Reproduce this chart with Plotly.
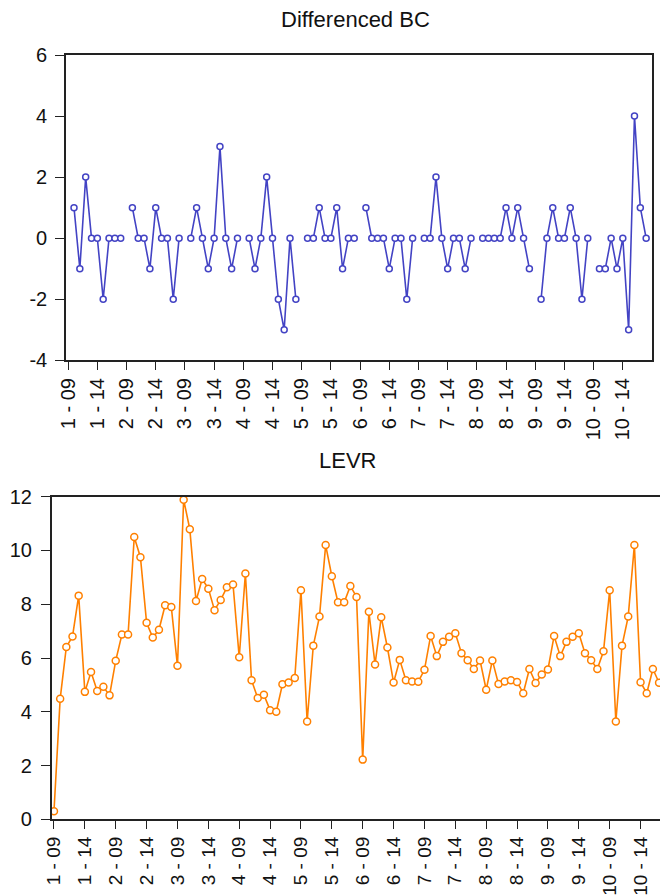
import plotly.graph_objects as go

W, H = 660, 895

# Observation labels: cross-section - year
obs_labels = [f"{c} - {y:02d}" for c in range(1, 11) for y in range(9, 19)]
tick_labels = obs_labels[::5]

nan = None
diff_bc = [
    nan, 1, -1, 2, 0, 0, -2, 0, 0, 0,
    nan, 1, 0, 0, -1, 1, 0, 0, -2, 0,
    nan, 0, 1, 0, -1, 0, 3, 0, -1, 0,
    nan, 0, -1, 0, 2, 0, -2, -3, 0, -2,
    nan, 0, 0, 1, 0, 0, 1, -1, 0, 0,
    nan, 1, 0, 0, 0, -1, 0, 0, -2, 0,
    nan, 0, 0, 2, 0, -1, 0, 0, -1, 0,
    nan, 0, 0, 0, 0, 1, 0, 1, 0, -1,
    nan, -2, 0, 1, 0, 0, 1, 0, -2, 0,
    nan, -1, -1, 0, -1, 0, -3, 4, 1, 0,
]

levr = [
    0.30, 4.48, 6.41, 6.80, 8.32, 4.74, 5.48, 4.77, 4.93, 4.61,
    5.90, 6.87, 6.87, 10.50, 9.75, 7.31, 6.76, 7.05, 7.96, 7.90,
    5.71, 11.89, 10.79, 8.12, 8.94, 8.58, 7.78, 8.16, 8.63, 8.73,
    6.03, 9.14, 5.17, 4.51, 4.63, 4.06, 4.00, 5.02, 5.09, 5.26,
    8.52, 3.64, 6.46, 7.54, 10.20, 9.04, 8.07, 8.07, 8.68, 8.27,
    2.22, 7.72, 5.76, 7.52, 6.39, 5.09, 5.93, 5.17, 5.13, 5.12,
    5.56, 6.82, 6.07, 6.60, 6.79, 6.92, 6.18, 5.92, 5.59, 5.91,
    4.82, 5.91, 5.03, 5.13, 5.17, 5.11, 4.69, 5.59, 5.07, 5.39,
    5.57, 6.82, 6.07, 6.60, 6.79, 6.92, 6.18, 5.92, 5.59, 6.25,
    8.52, 3.64, 6.46, 7.54, 10.20, 5.10, 4.69, 5.59, 5.08, 5.39,
]

top_yticks = [-4, -2, 0, 2, 4, 6]
top_ytext = ["-4", "-2", "0", "2", "4", "6"]
bot_yticks = [0, 2, 4, 6, 8, 10, 12]
bot_ytext = ["0", "2", "4", "6", "8", "10", "12"]

BLUE = "#4343c4"
ORANGE = "#ff8000"
FONT = "Liberation Sans, Arial, sans-serif"

def px_x(p):
    return p / W

def px_y(p):
    return (H - p) / H

fig = go.Figure()
fig.add_trace(go.Scatter(
    x=obs_labels, y=diff_bc, mode="lines+markers", xaxis="x", yaxis="y",
    line=dict(color=BLUE, width=1.6),
    marker=dict(symbol="circle", size=6, color="white", line=dict(color=BLUE, width=1.5)),
    connectgaps=False, showlegend=False, cliponaxis=False,
))
fig.add_trace(go.Scatter(
    x=obs_labels, y=levr, mode="lines+markers", xaxis="x2", yaxis="y2",
    line=dict(color=ORANGE, width=1.6),
    marker=dict(symbol="circle", size=7, color="white", line=dict(color=ORANGE, width=1.5)),
    showlegend=False,
))

axis_common = dict(
    showgrid=False, zeroline=False, linecolor="#222", linewidth=1.6,
    ticks="outside", tickcolor="#222", tickwidth=1.4, automargin=False,
    tickfont=dict(family=FONT, size=20, color="#111"),
)

fig.update_layout(
    template="none",
    width=W, height=H,
    margin=dict(l=0, r=0, t=0, b=0, pad=0),
    paper_bgcolor="white", plot_bgcolor="white",
    xaxis=dict(axis_common, domain=[px_x(66), px_x(652)], anchor="y",
               type="category", range=[-0.37, 100.0],
               tickvals=tick_labels, ticktext=tick_labels, tickangle=-90,
               ticklen=8, mirror=True),
    yaxis=dict(axis_common, domain=[px_y(360.3), px_y(55)], anchor="x",
               range=[-4, 6], tickvals=top_yticks, ticktext=top_ytext,
               ticklen=9, mirror=True, ticklabelstandoff=4),
    xaxis2=dict(axis_common, domain=[px_x(51.7), 1.0], anchor="y2",
                type="category", range=[-0.37, 98.15],
                tickvals=tick_labels, ticktext=tick_labels, tickangle=-90,
                ticklen=8, mirror=True,
                tickfont=dict(family=FONT, size=19, color="#111")),
    yaxis2=dict(axis_common, domain=[px_y(819.3), px_y(496.7)], anchor="x2",
                range=[0, 12], tickvals=bot_yticks, ticktext=bot_ytext,
                ticklen=9, ticklabelstandoff=5),
    annotations=[
        dict(text="Differenced BC", x=px_x(355), y=px_y(20), xref="paper", yref="paper",
             showarrow=False, xanchor="center", yanchor="middle",
             font=dict(family=FONT, size=22, color="#111")),
        dict(text="LEVR", x=px_x(348), y=px_y(461), xref="paper", yref="paper",
             showarrow=False, xanchor="center", yanchor="middle",
             font=dict(family=FONT, size=22, color="#111")),
    ],
)

fig.write_html(
    "out.html",
    config={"displayModeBar": False},
    post_script="document.body.style.margin='0px';document.body.style.overflow='hidden';",
)
